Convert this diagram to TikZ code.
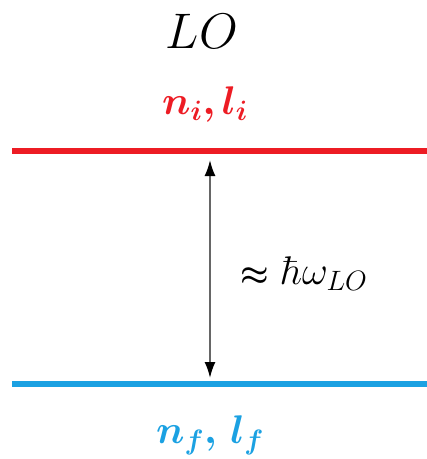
\RequirePackage{fix-cm}
\documentclass[tikz,border=0pt]{standalone}
\usepackage{amsmath}
\usepackage{bm}
\usetikzlibrary{arrows.meta}
\definecolor{lvred}{HTML}{ED1C24}
\definecolor{lvblue}{HTML}{1BA1E2}
\begin{document}
\begin{tikzpicture}[x=1pt,y=-1pt,
  level/.style={line width=6pt},
  lbl/.style={inner sep=0pt,anchor=base},
  bigtip/.tip={Latex[length=16pt,width=11pt,color=black]},
  gap/.style={line width=1.8pt,draw=black!60,bigtip-bigtip}]
\useasboundingbox (0,0) rectangle (427,459);
\coordinate (rl) at (12,151);
\coordinate (rr) at (427,151);
\coordinate (bl) at (12,384);
\coordinate (br) at (427,384);
\draw[level,lvred] (rl) -- (rr);
\draw[level,lvblue] (bl) -- (br);
\coordinate (atop) at (210,160);
\coordinate (abot) at (210,378);
\draw[gap] (atop) -- (abot);
\node[lbl] (lo) at (202,48) {\fontsize{50}{56}\selectfont $LO$};
\node[lbl,text=lvred] (ni) at (205,114) {\fontsize{40}{46}\selectfont $\bm{n_{i},l_{i}}$};
\node[lbl] (hw) at (304,284) {{\fontsize{32}{38}\selectfont $\bm{\approx}$}\hspace*{12pt}{\fontsize{40}{46}\selectfont $\hbar\omega_{LO}$}};
\node[lbl,text=lvblue] (nf) at (210,443) {\fontsize{40}{46}\selectfont $\bm{n_{f},\,l_{f}}$};
\end{tikzpicture}
\end{document}
